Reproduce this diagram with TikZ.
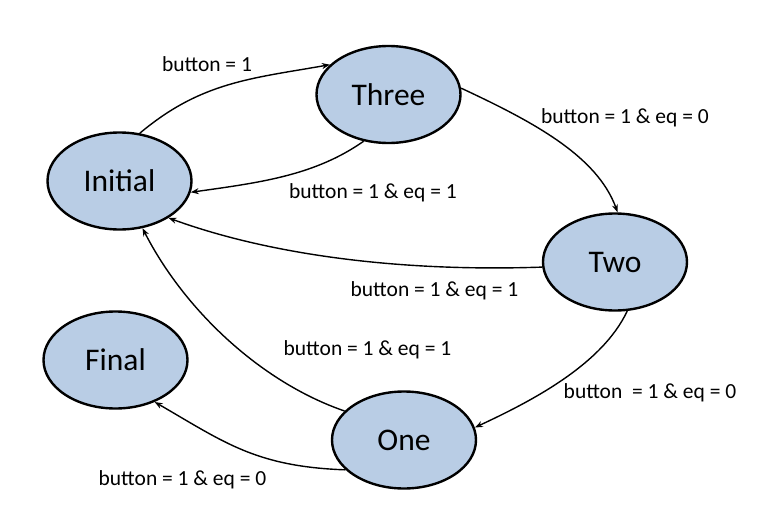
\documentclass[tikz,border=0pt]{standalone}
\usepackage{fontspec}
\setmainfont{Carlito}
\usetikzlibrary{shapes.geometric,arrows.meta}
\definecolor{stfill}{RGB}{185,205,229}
\begin{document}
\begin{tikzpicture}[x=1pt,y=1pt,
  state/.style={ellipse,draw=black,line width=2.4pt,fill=stfill,minimum width=144pt,minimum height=97pt,inner sep=0pt,font=\fontsize{31.5}{36}\selectfont},
  trans/.style={line width=1.4pt,-{Stealth[length=8pt,width=6pt]}},
  lab/.style={anchor=base,font=\fontsize{21.5}{25}\selectfont,inner sep=0pt}]
\useasboundingbox (0,0) rectangle (761,-514);
\node[state] (init)  at (119.5,-181) {Initial};
\node[state] (three) at (388.5,-94.5) {Three};
\node[state] (two)   at (615,-262) {Two};
\node[state] (one)   at (404,-440) {One};
\node[state] (final) at (115.5,-360) {Final};

\draw[trans] (init.67) .. controls +(40:80) and +(190:80) .. (three.153);
\draw[trans] (three.242) .. controls +(215:60) and +(8:70) .. (init.-9);
\draw[trans] (three.5) .. controls +(-25:80) and +(110:60) .. (two.87);
\draw[trans] (two.184) .. controls +(182:140) and +(-20:110) .. (init.-37.5);
\draw[trans] (two.284) .. controls +(-115:60) and +(25:60) .. (one.10);
\draw[trans] (one.154) .. controls +(161:90) and +(-63:90) .. (init.-64);
\draw[trans] (one.207) .. controls +(178:90) and +(-30:80) .. (final.-47);

\node[lab] (l1) at (207,-71) {button = 1};
\node[lab] (l2) at (373,-198) {button = 1 \& eq = 1};
\node[lab] (l3) at (625,-123) {button = 1 \& eq = 0};
\node[lab] (l4) at (434.5,-296) {button = 1 \& eq = 1};
\node[lab] (l5) at (650,-398) {button \ = 1 \& eq = 0};
\node[lab] (l6) at (367.5,-355) {button = 1 \& eq = 1};
\node[lab] (l7) at (182.5,-485) {button = 1 \& eq = 0};
\end{tikzpicture}
\end{document}
